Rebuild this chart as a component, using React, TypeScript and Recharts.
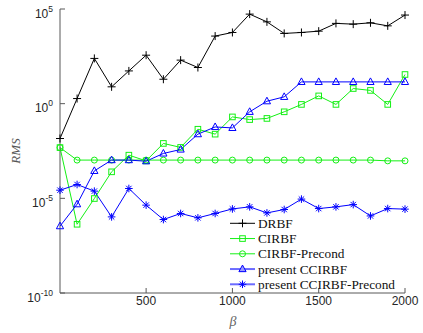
import React from 'react'
import { LineChart, Line, XAxis, YAxis, Legend } from 'recharts'

// beta values along the x axis
const betas = [1, 100, 200, 300, 400, 500, 600, 700, 800, 900, 1000, 1100, 1200, 1300, 1400, 1500, 1600, 1700, 1800, 1900, 2000]

// RMS values, stored as log10(RMS)
const drbfLog = [-1.84, 0.27, 2.39, 0.89, 1.73, 2.56, 1.29, 2.3, 1.91, 3.57, 3.76, 4.73, 4.32, 3.71, 3.76, 3.83, 4.24, 4.2, 4.27, 4.11, 4.68]
const cirbfLog = [-2.32, -6.37, -5.01, -3.6, -2.72, -3.02, -2.1, -2.31, -1.35, -1.61, -0.7, -0.84, -0.78, -0.43, -0.04, 0.41, -0.04, 0.8, 0.7, -0.04, 1.54]
const cirbfPrecondLog = [-2.32, -2.98, -2.98, -2.98, -2.98, -2.98, -2.98, -2.98, -2.98, -2.98, -2.98, -2.98, -2.98, -2.98, -2.98, -2.98, -2.98, -2.98, -2.98, -3.02, -3.02]
const ccirbfLog = [-6.47, -5.31, -3.55, -2.98, -2.98, -3.04, -2.63, -2.42, -1.61, -1.23, -1.28, -0.43, 0.13, 0.36, 1.15, 1.15, 1.15, 1.15, 1.15, 1.15, 1.15]
const ccirbfPrecondLog = [-4.57, -4.27, -4.62, -5.98, -4.48, -5.36, -6.12, -5.8, -6.03, -5.8, -5.56, -5.45, -5.77, -5.59, -5.04, -5.54, -5.45, -5.33, -5.93, -5.54, -5.57]

const xTicks = [500, 1000, 1500, 2000]
const yTicks = [1e-10, 1e-5, 1, 1e5]

const rows = betas.map((beta, i) => ({
	beta,
	drbf: Math.pow(10, drbfLog[i]),
	cirbf: Math.pow(10, cirbfLog[i]),
	cirbfPrecond: Math.pow(10, cirbfPrecondLog[i]),
	ccirbf: Math.pow(10, ccirbfLog[i]),
	ccirbfPrecond: Math.pow(10, ccirbfPrecondLog[i]),
}))

const GREEN = '#14f014'
const BLUE = '#0000ff'
const AXIS = '#595959'
const TEXT = '#262626'
const SANS = "'Liberation Sans', Arial, sans-serif"
const SERIF = "'Liberation Serif', 'Times New Roman', serif"

const series = [
	{ key: 'drbf', name: 'DRBF', color: '#000000', shape: 'plus', legendStroke: '#000000', legendWidth: 1 },
	{ key: 'cirbf', name: 'CIRBF', color: GREEN, shape: 'square', legendStroke: GREEN, legendWidth: 1 },
	{ key: 'cirbfPrecond', name: 'CIRBF-Precond', color: GREEN, shape: 'circle', legendStroke: GREEN, legendWidth: 1 },
	{ key: 'ccirbf', name: 'present CCIRBF', color: BLUE, shape: 'triangle', legendStroke: '#6b6bff', legendWidth: 2 },
	{ key: 'ccirbfPrecond', name: 'present CCIRBF-Precond', color: BLUE, shape: 'star', legendStroke: '#6b6bff', legendWidth: 2 },
]

const Marker = ({ shape, cx, cy, color, fill = 'none' }) => {
	if (cx == null || cy == null) return null
	switch (shape) {
		case 'plus':
			return (
				<g stroke={color} strokeWidth={1}>
					<line x1={cx - 4} y1={cy} x2={cx + 4} y2={cy} />
					<line x1={cx} y1={cy - 4} x2={cx} y2={cy + 4} />
				</g>
			)
		case 'square':
			return <rect x={cx - 2.8} y={cy - 2.8} width={5.6} height={5.6} fill={fill} stroke={color} strokeWidth={1} />
		case 'circle':
			return <circle cx={cx} cy={cy} r={3} fill={fill} stroke={color} strokeWidth={1} />
		case 'triangle':
			return (
				<polygon
					points={`${cx},${cy - 4} ${cx - 3.6},${cy + 2.6} ${cx + 3.6},${cy + 2.6}`}
					fill={fill}
					stroke={color}
					strokeWidth={1}
				/>
			)
		default:
			return (
				<g stroke={color} strokeWidth={1}>
					<line x1={cx - 3.8} y1={cy} x2={cx + 3.8} y2={cy} />
					<line x1={cx} y1={cy - 3.8} x2={cx} y2={cy + 3.8} />
					<line x1={cx - 2.7} y1={cy - 2.7} x2={cx + 2.7} y2={cy + 2.7} />
					<line x1={cx - 2.7} y1={cy + 2.7} x2={cx + 2.7} y2={cy - 2.7} />
				</g>
			)
	}
}

const XTick = ({ x, y, payload }) => (
	<text x={x} y={y + 12} textAnchor="middle" fontSize={12} fontFamily={SANS} fill={TEXT}>
		{payload.value}
	</text>
)

const YTick = ({ x, y, payload }) => {
	const exp = Math.round(Math.log10(payload.value))
	return (
		<text x={x} y={y + 8.5} textAnchor="end" fontSize={12} fontFamily={SANS} fill={TEXT}>
			<tspan>10</tspan>
			<tspan dy={-6} fontSize={8.5}>{exp}</tspan>
		</text>
	)
}

const LegendBox = () => (
	<svg width={185} height={80} style={{ display: 'block' }}>
		{series.map((s, i) => {
			const cy = 8.3 + i * 15.25
			return (
				<g key={s.key}>
					<line x1={5} y1={cy} x2={30} y2={cy} stroke={s.legendStroke} strokeWidth={s.legendWidth} />
					<Marker shape={s.shape} cx={17.5} cy={cy} color={s.color} fill={s.shape === 'triangle' ? '#9a9aff' : 'none'} />
					<text x={33} y={cy + 4.5} fontSize={13.3} fontFamily={SERIF} fill="#111">
						{s.name}
					</text>
				</g>
			)
		})}
	</svg>
)

export default function App() {
	return (
		<div style={{ position: 'absolute', left: 0, top: 0, background: '#fff' }}>
			<LineChart width={423} height={333} data={rows} margin={{ top: 9, right: 18, bottom: 0, left: 0 }}>
				<XAxis
					dataKey="beta"
					type="number"
					domain={[1, 2000]}
					ticks={xTicks}
					height={40}
					tickSize={-5}
					tickMargin={5}
					stroke={AXIS}
					tick={<XTick />}
					label={{
						content: () => (
							<text x={233} y={326} textAnchor="middle" fontSize={14} fontStyle="italic" fontFamily={SERIF} fill="#666">
								β
							</text>
						),
					}}
				/>
				<XAxis
					xAxisId="top"
					orientation="top"
					dataKey="beta"
					type="number"
					domain={[1, 2000]}
					ticks={xTicks}
					height={0}
					tickSize={-5}
					tick={false}
					stroke={AXIS}
				/>
				<YAxis
					scale="log"
					domain={[1e-10, 1e5]}
					allowDataOverflow
					ticks={yTicks}
					width={60}
					tickSize={-5}
					tickMargin={12}
					stroke={AXIS}
					tick={<YTick />}
					label={{
						content: () => (
							<text
								x={20}
								y={151}
								transform="rotate(-90 20 151)"
								textAnchor="middle"
								fontSize={13}
								fontStyle="italic"
								fontFamily={SERIF}
								fill="#555"
							>
								RMS
							</text>
						),
					}}
				/>
				<YAxis
					yAxisId="right"
					orientation="right"
					scale="log"
					domain={[1e-10, 1e5]}
					allowDataOverflow
					ticks={yTicks}
					width={0}
					tickSize={-5}
					tick={false}
					stroke={AXIS}
				/>
				{series.map((s) => (
					<Line
						key={s.key}
						dataKey={s.key}
						name={s.name}
						stroke={s.color}
						strokeWidth={1}
						isAnimationActive={false}
						dot={(p) => <Marker key={`${s.key}-${p.index}`} shape={s.shape} cx={p.cx} cy={p.cy} color={s.color} />}
						activeDot={false}
					/>
				))}
				<Legend
					layout="horizontal"
					verticalAlign="middle"
					align="center"
					content={() => <LegendBox />}
					wrapperStyle={{ left: 225, top: 215, width: 185 }}
				/>
			</LineChart>
		</div>
	)
}
